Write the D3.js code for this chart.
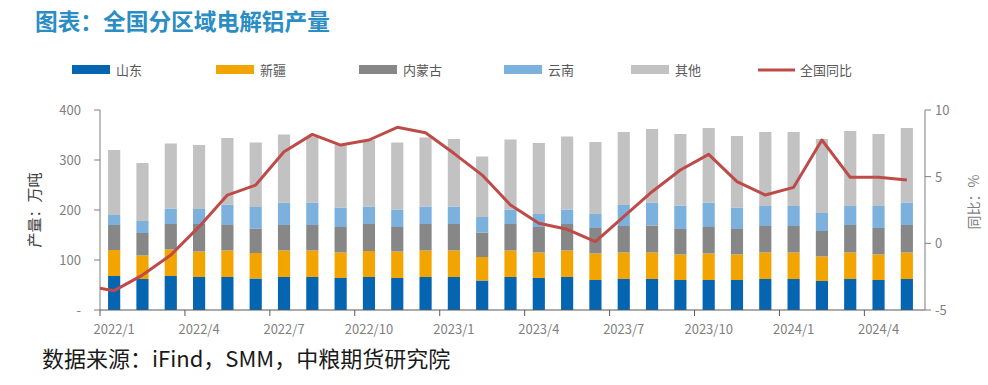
<!DOCTYPE html>
<html><head><meta charset="utf-8">
<script src="https://cdn.jsdelivr.net/npm/d3@7"></script>
<style>body{margin:0;background:#fff;}svg{display:block;}</style>
</head><body>
<svg id="c" width="988" height="385"></svg>
<script>
const months = ["2022/1","2022/2","2022/3","2022/4","2022/5","2022/6","2022/7","2022/8","2022/9","2022/10","2022/11","2022/12",
"2023/1","2023/2","2023/3","2023/4","2023/5","2023/6","2023/7","2023/8","2023/9","2023/10","2023/11","2023/12",
"2024/1","2024/2","2024/3","2024/4","2024/5"];
const shandong = [68,62,68,66,66,63,66,66,64,66,64,66,66,59,66,64,66,60,62,62,60,60,60,62,62,58,62,60,62];
const xinjiang = [52,47,53,51,53,51,53,53,51,52,53,53,53,47,53,51,53,53,53,53,51,53,51,53,53,49,53,51,53];
const neimenggu = [50,45,51,55,51,49,51,51,51,54,49,53,53,49,53,51,53,51,53,54,51,53,51,53,53,51,55,53,55];
const yunnan = [20,24,31,30,41,43,45,45,39,35,35,35,35,31,29,26,29,28,42,46,47,49,43,40,40,36,38,44,45];
const qita = [130,116,130,128,133,129,136,132,125,133,134,138,135,121,140,142,146,144,146,147,143,149,143,148,148,148,150,144,149];
const yoy = [-3.55,-2.38,-0.88,1.25,3.62,4.37,6.87,8.17,7.37,7.75,8.7,8.3,6.75,5.12,2.87,1.5,1.05,0.12,2.0,3.87,5.5,6.67,4.63,3.62,4.2,7.75,4.95,4.95,4.75];
const yoyPrev = -3.2; // 2021/12, only its segment to 2022/1 is visible
const xTickLabels = ["2022/1","2022/4","2022/7","2022/10","2023/1","2023/4","2023/7","2023/10","2024/1","2024/4"];
const leftTicks = [0,100,200,300,400];
const rightTicks = [-5,0,5,10];
const seriesNames = ["山东","新疆","内蒙古","云南","其他"];
const colors = ["#0665B1","#F2A500","#878787","#7DB1DD","#C2C2C2"];
const lineColor = "#BE4B48";

const svg = d3.select("#c");
const font = "'Noto Sans CJK SC','Noto Sans',sans-serif";
const L = 100, R = 925, T = 110, B = 310;

const x = d3.scaleBand().domain(months).range([L, 921]).paddingInner(0.57).paddingOuter(0.285);
const y = d3.scaleLinear().domain([0,400]).range([B,T]);
const y2 = d3.scaleLinear().domain([-5,10]).range([B,T]);

// title
svg.append("text").attr("x",35).attr("y",30).attr("font-family",font).attr("font-weight","bold")
  .attr("font-size",22.7).attr("fill","#2A8DC3").text("图表：全国分区域电解铝产量");

// legend
const legX = [72,216,359,504,631];
seriesNames.forEach((n,i)=>{
  svg.append("rect").attr("x",legX[i]).attr("y",65).attr("width",38).attr("height",9).attr("fill",colors[i]);
  svg.append("text").attr("x",legX[i]+44).attr("y",75).attr("font-family",font).attr("font-size",13)
    .attr("fill","#595959").text(n);
});
svg.append("line").attr("x1",758).attr("x2",795).attr("y1",70).attr("y2",70).attr("stroke",lineColor).attr("stroke-width",3);
svg.append("text").attr("x",800).attr("y",75).attr("font-family",font).attr("font-size",13).attr("fill","#595959").text("全国同比");

// stacked bars
const table = months.map((m,i)=>({m, s0:shandong[i], s1:xinjiang[i], s2:neimenggu[i], s3:yunnan[i], s4:qita[i]}));
const stack = d3.stack().keys(["s0","s1","s2","s3","s4"])(table);
svg.append("g").selectAll("g").data(stack).join("g").attr("fill",(d,i)=>colors[i])
  .selectAll("rect").data(d=>d).join("rect")
  .attr("x",d=>x(d.data.m)).attr("width",x.bandwidth())
  .attr("y",d=>y(d[1])).attr("height",d=>y(d[0])-y(d[1]));

// axes
const axG = svg.append("g").attr("font-family",font).attr("font-size",13).attr("fill","#7F7F7F");
axG.append("line").attr("x1",L).attr("x2",L).attr("y1",T).attr("y2",B).attr("stroke","#7F7F7F");
axG.append("line").attr("x1",R).attr("x2",R).attr("y1",T).attr("y2",B).attr("stroke","#7F7F7F");
axG.append("line").attr("x1",L).attr("x2",R).attr("y1",B).attr("y2",B).attr("stroke","#595959");
leftTicks.forEach(v=>{
  axG.append("line").attr("x1",L-6).attr("x2",L).attr("y1",y(v)).attr("y2",y(v)).attr("stroke","#7F7F7F");
  axG.append("text").attr("x",81).attr("y",y(v)+5).attr("text-anchor","end").text(v===0?"-":v);
});
rightTicks.forEach(v=>{
  axG.append("line").attr("x1",R).attr("x2",R+6).attr("y1",y2(v)).attr("y2",y2(v)).attr("stroke","#7F7F7F");
  axG.append("text").attr("x",935).attr("y",y2(v)+5).attr("text-anchor","start").text(v);
});
const step = x.step();
xTickLabels.forEach(lab=>{
  const cx = x(lab) + x.bandwidth()/2;
  const tx = cx - step/2;
  axG.append("line").attr("x1",tx).attr("x2",tx).attr("y1",B).attr("y2",B+6).attr("stroke","#595959");
  axG.append("text").attr("x",cx).attr("y",334).attr("text-anchor","middle").text(lab);
});
axG.append("text").attr("transform","translate(40,210) rotate(-90)").attr("text-anchor","middle")
  .attr("font-size",15).attr("fill","#404040").text("产量：万吨");
axG.append("text").attr("transform","translate(979,202) rotate(-90)").attr("text-anchor","middle")
  .attr("font-size",14).attr("fill","#7F7F7F").text("同比：%");

// line
svg.append("clipPath").attr("id","clip").append("rect").attr("x",L).attr("y",0).attr("width",R-L).attr("height",385);
const pts = [[x(months[0])+x.bandwidth()/2 - step, y2(yoyPrev)]]
  .concat(months.map((m,i)=>[x(m)+x.bandwidth()/2, y2(yoy[i])]));
svg.append("path").attr("clip-path","url(#clip)").attr("d",d3.line()(pts))
  .attr("fill","none").attr("stroke",lineColor).attr("stroke-width",3).attr("stroke-linejoin","round");

// source
svg.append("text").attr("x",42).attr("y",367).attr("font-family",font).attr("font-size",22)
  .attr("fill","#1a1a1a").text("数据来源：iFind，SMM，中粮期货研究院");
</script>
</body></html>
